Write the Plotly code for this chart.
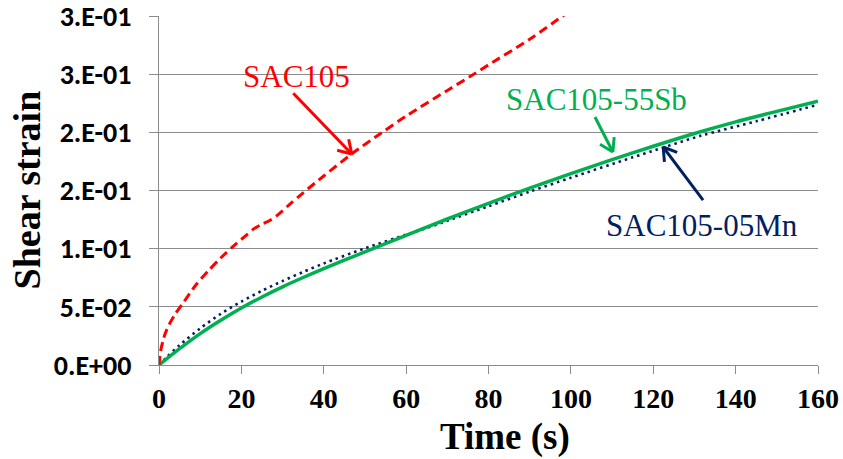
import math
import plotly.graph_objects as go

# ---- data -------------------------------------------------------------
t_sac105 = [0, 0.25, 0.5, 1, 1.5, 2.5, 4, 6, 9, 12, 15, 18, 21, 23, 25, 27,
            29, 32, 35, 40, 47, 54, 60, 70, 76, 80, 90, 98, 100]
y_sac105 = [0, 0.008, 0.014, 0.021, 0.027, 0.035, 0.044, 0.054, 0.069, 0.081,
            0.092, 0.102, 0.111, 0.117, 0.121, 0.1245, 0.1295, 0.139, 0.148,
            0.1625, 0.182, 0.1995, 0.214, 0.236, 0.249, 0.258, 0.280, 0.300,
            0.305]

t_sb = [0, 5, 10, 15, 20, 25, 30, 35, 40, 50, 60, 70, 80, 90, 100, 110, 120,
        130, 140, 150, 160]
y_sb = [0, 0.0140, 0.0270, 0.0385, 0.0490, 0.0585, 0.0672, 0.0752, 0.0828,
        0.0972, 0.1115, 0.1255, 0.139, 0.152, 0.1645, 0.1765, 0.188, 0.199,
        0.209, 0.218, 0.2267]

t_mn = [0, 2, 5, 10, 15, 20, 25, 30, 35, 40, 50, 60, 65, 70, 80, 90, 100,
        115, 131.5, 145, 160]
y_mn = [0, 0.0072, 0.0170, 0.0315, 0.0440, 0.0545, 0.0638, 0.0722, 0.0800,
        0.0873, 0.1003, 0.1120, 0.1178, 0.1240, 0.1365, 0.1490, 0.1610,
        0.1785, 0.1970, 0.2095, 0.2238]

x_ticks = [0, 20, 40, 60, 80, 100, 120, 140, 160]
y_ticks = [0, 0.05, 0.10, 0.15, 0.20, 0.25, 0.30]
y_ticktext = ["0.E+00", "5.E-02", "1.E-01", "2.E-01", "2.E-01", "3.E-01", "3.E-01"]

RED = "#FF0000"
GREEN = "#00B050"
NAVY = "#002060"
GRID = "#8C8C8C"

# ---- layout geometry ----------------------------------------------------
W, H = 843, 459
ML, MR, MT, MB = 159, 25, 16, 94
X_RANGE = [0, 160]
Y_RANGE = [0, 0.30 + 1e-9]
kx = (W - ML - MR) / (X_RANGE[1] - X_RANGE[0])   # px per second
ky = (H - MT - MB) / (Y_RANGE[1] - Y_RANGE[0])   # px per unit strain

fig = go.Figure()

fig.add_trace(go.Scatter(x=t_mn, y=y_mn, mode="lines", name="SAC105-05Mn",
                         line=dict(color=NAVY, width=2.6, dash="2.5px,4px",
                                   shape="spline", smoothing=0.8)))
fig.add_trace(go.Scatter(x=t_sb, y=y_sb, mode="lines", name="SAC105-55Sb",
                         line=dict(color=GREEN, width=3.5,
                                   shape="spline", smoothing=0.8)))
fig.add_trace(go.Scatter(x=t_sac105, y=y_sac105, mode="lines", name="SAC105",
                         line=dict(color=RED, width=3, dash="9px,5px",
                                   shape="spline", smoothing=0.8)))

serif = "Liberation Serif, Times New Roman, serif"

# labels with open-V arrows
labels = [
    # text, colour, text centre (t, y), arrow tail, arrow tip
    ("SAC105", RED, (33.5, 0.2484), (32.6, 0.2336), (46.8, 0.1814)),
    ("SAC105-55Sb", GREEN, (106.3, 0.2278), (105.85, 0.2132), (110.2, 0.1831)),
    ("SAC105-05Mn", NAVY, (131.8, 0.1195), (132.1, 0.1418), (122.4, 0.1874)),
]

shapes = []
for text, col, (tx, ty), (t0, y0), (t1, y1) in labels:
    fig.add_annotation(x=tx, y=ty, xref="x", yref="y", text=text,
                       showarrow=False, xanchor="center", yanchor="middle",
                       font=dict(family=serif, size=31, color=col))
    shapes.append(dict(type="line", xref="x", yref="y", x0=t0, y0=y0,
                       x1=t1, y1=y1, line=dict(color=col, width=3)))
    # arrow head wings computed in pixel space
    dx = (t1 - t0) * kx
    dy = -(y1 - y0) * ky
    n = math.hypot(dx, dy)
    ux, uy = dx / n, dy / n
    L, ang = 15, math.radians(32)
    for s in (1, -1):
        ca, sa = math.cos(s * ang), math.sin(s * ang)
        rx = ux * ca - uy * sa
        ry = ux * sa + uy * ca
        wx = t1 - L * rx / kx
        wy = y1 + L * ry / ky
        shapes.append(dict(type="line", xref="x", yref="y", x0=t1, y0=y1,
                           x1=wx, y1=wy, line=dict(color=col, width=3)))

# axis titles
fig.add_annotation(x=(505 - ML) / (W - ML - MR), y=-(437 - (H - MB)) / (H - MT - MB),
                   xref="paper", yref="paper", text="Time (s)", showarrow=False,
                   xanchor="center", yanchor="middle",
                   font=dict(family=serif, size=37, color="black", weight="bold"))
fig.add_annotation(x=-(ML - 26) / (W - ML - MR), y=0.5,
                   xref="paper", yref="paper", text="Shear strain", showarrow=False,
                   textangle=-90, xanchor="center", yanchor="middle",
                   font=dict(family=serif, size=38, color="black", weight="bold"))

fig.update_layout(
    width=W, height=H,
    margin=dict(l=ML, r=MR, t=MT, b=MB, pad=0, autoexpand=False),
    paper_bgcolor="white", plot_bgcolor="white",
    showlegend=False,
    shapes=shapes,
    xaxis=dict(range=X_RANGE, tickvals=x_ticks, showgrid=False, zeroline=False,
               automargin=False, ticklabeloverflow="allow",
               showline=True, linecolor=GRID, linewidth=1,
               ticks="outside", ticklen=8, tickcolor=GRID, tickwidth=1,
               tickfont=dict(family=serif, size=28, color="black", weight="bold")),
    yaxis=dict(range=Y_RANGE, tickvals=y_ticks, ticktext=y_ticktext,
               automargin=False, ticklabeloverflow="allow",
               showgrid=True, gridcolor=GRID, gridwidth=1, zeroline=False,
               showline=True, linecolor=GRID, linewidth=1,
               ticks="outside", ticklen=9, tickcolor=GRID, tickwidth=1,
               ticklabelstandoff=12,
               tickfont=dict(family="Carlito, Lato", size=28,
                             color="black", weight="bold")),
)

fig.write_html("out.html")
